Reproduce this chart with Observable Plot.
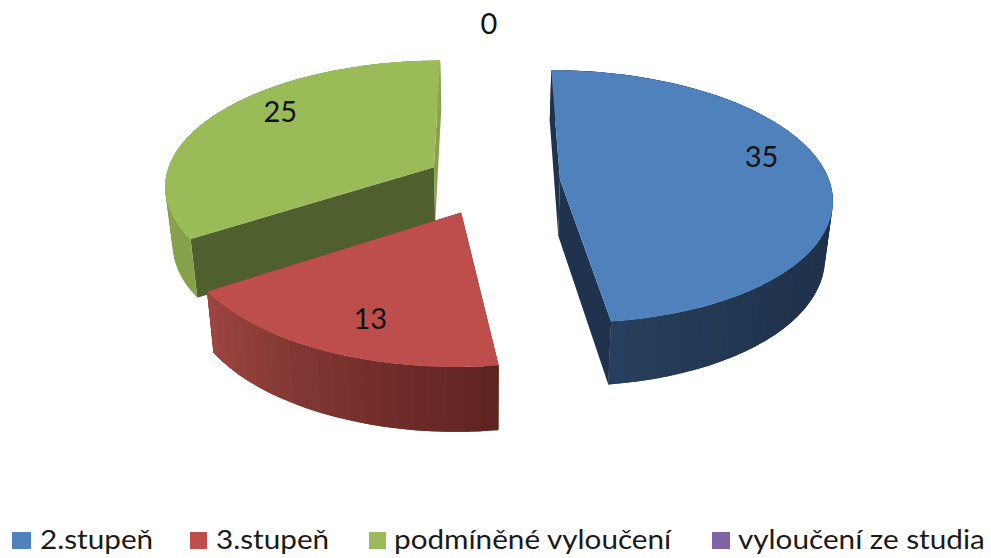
<!DOCTYPE html>
<html>
<head>
<meta charset="utf-8">
<script src="https://cdn.jsdelivr.net/npm/d3@7"></script>
<script src="https://cdn.jsdelivr.net/npm/@observablehq/plot@0.6"></script>
<style>
html,body{margin:0;padding:0;background:#fff;}
#legend{position:relative;width:991px;height:40px;font-family:Lato,sans-serif;font-size:26.5px;color:#1a1a1a;overflow:hidden;}
#legend .sw{position:absolute;top:14px;height:17px;}
#legend .tx{position:absolute;top:1px;line-height:40px;white-space:nowrap;transform:scaleX(1.12);transform-origin:left center;}
</style>
</head>
<body>
<div id="chart"></div>
<div id="legend"></div>
<script>
// Data
const categories = ["2.stupeň", "3.stupeň", "podmíněné vyloučení", "vyloučení ze studia"];
const values = [35, 13, 25, 0];

// Styles
const topColors = ["#4f81bd", "#bd4e4b", "#9bbb59", "#8064a2"];
const wallFrom = ["#1e3149", "#5e2220", "#86a14a", "#5e4a78"];
const wallTo = ["#27405f", "#9c4641", "#8aa54d", "#5e4a78"];
const wallCurve = [6, 1, 1, 1];
const startWall = ["#1f334e", "#5e2220", "#4f5f2d", "#5e4a78"];
const endWall = ["#1f334e", "#5e2220", "#86a14a", "#5e4a78"];
const paintOrder = [2, 1, 0];

// Explosion of each slice, in disc radii, and label placement
const explodeU = [0.273, -0.091, -0.198, 0.011];
const explodeV = [0.055, -0.2, 0.155, 0.3];
const labelRadius = [0.795, 0.78, 0.79, 1.25];
const labelTurn = [-9.5, -3.3, 9, 0];
const legendSwatchX = [12, 190, 369, 712];
const legendSwatchW = [19, 17, 17, 18];
const legendTextX = [40, 216, 394, 738];

// Perspective camera
const width = 991, height = 518;
const cx = 486, cy = 186, A = 271, B = 126, k = 0.135;
const depthX = 0.977, depthY = 1.047, depth = 56.5;

function project(u, v, low) {
  const w = 1 + k * v;
  return low
    ? {x: cx + depthX * A * u / w, y: cy + depth - depthY * B * v / w}
    : {x: cx + A * u / w, y: cy - B * v / w};
}
const rad = d => d * Math.PI / 180;

const total = d3.sum(values);
let acc = 0;
const slices = values.map((value, i) => {
  const a0 = acc / total * 360;
  acc += value;
  const a1 = acc / total * 360;
  return {i, value, a0, a1, mid: (a0 + a1) / 2};
});
// The zero slice sits at the end of the turn
slices[3].mid = 360;

const rim = (s, a) => [explodeU[s.i] + Math.sin(rad(a)), explodeV[s.i] + Math.cos(rad(a))];

const polys = [];
let id = 0;
function poly(points, fill) {
  id++;
  for (const p of points) polys.push({id, x: p.x, y: p.y, fill});
}

for (const i of paintOrder) {
  const s = slices[i];
  const apex = [explodeU[i], explodeV[i]];
  const wall = (a, b, fill) => poly([
    project(a[0], a[1], false), project(b[0], b[1], false),
    project(b[0], b[1], true), project(a[0], a[1], true)
  ], fill);
  const n = Math.max(2, Math.round((s.a1 - s.a0) / 3));
  const angles = d3.range(n + 1).map(j => s.a0 + (s.a1 - s.a0) * j / n);
  wall(apex, rim(s, s.a0), startWall[i]);
  wall(apex, rim(s, s.a1), endWall[i]);
  const shade = d3.interpolateRgb(wallFrom[i], wallTo[i]);
  // Each band is a small fan of rim steps and overlaps the next one, so no seam shows
  for (let j = 0; j < n; j++) {
    const steps = [angles[j], angles[j + 1], angles[Math.min(j + 2, n)]];
    const upper = steps.map(a => { const p = rim(s, a); return project(p[0], p[1], false); });
    const lower = steps.map(a => { const p = rim(s, a); return project(p[0], p[1], true); }).reverse();
    poly([...upper, ...lower], d3.color(shade(Math.pow((j + .5) / n, wallCurve[i]))).formatHex());
  }
  poly([project(apex[0], apex[1], false),
    ...d3.range(0, 61).map(j => {
      const p = rim(s, s.a0 + (s.a1 - s.a0) * j / 60);
      return project(p[0], p[1], false);
    })
  ], topColors[i]);
}

const labels = slices.map(s => {
  const a = rad(s.mid + labelTurn[s.i]), r = labelRadius[s.i];
  const p = project(explodeU[s.i] + r * Math.sin(a), explodeV[s.i] + r * Math.cos(a), false);
  return {x: p.x, y: p.y, text: String(s.value)};
});

const chart = Plot.plot({
  width, height,
  marginTop: 0, marginRight: 0, marginBottom: 0, marginLeft: 0,
  style: {background: "#fff"},
  x: {domain: [0, width], range: [0, width], axis: null},
  y: {domain: [0, height], range: [0, height], axis: null},
  color: {type: "identity"},
  marks: [
    Plot.line(polys, {x: "x", y: "y", z: "id", fill: "fill", stroke: "none", curve: "linear-closed"}),
    Plot.text(labels, {x: "x", y: "y", text: "text", fontSize: 29, fontFamily: "Lato, sans-serif", fill: "#111", textAnchor: "middle"})
  ]
});
document.getElementById("chart").appendChild(chart);
chart.style.display = "block";

const legend = document.getElementById("legend");
categories.forEach((c, i) => {
  const sw = document.createElement("div");
  sw.className = "sw";
  sw.style.left = legendSwatchX[i] + "px";
  sw.style.width = legendSwatchW[i] + "px";
  sw.style.background = topColors[i];
  legend.appendChild(sw);
  const tx = document.createElement("div");
  tx.className = "tx";
  tx.style.left = legendTextX[i] + "px";
  tx.textContent = c;
  legend.appendChild(tx);
});
</script>
</body>
</html>
